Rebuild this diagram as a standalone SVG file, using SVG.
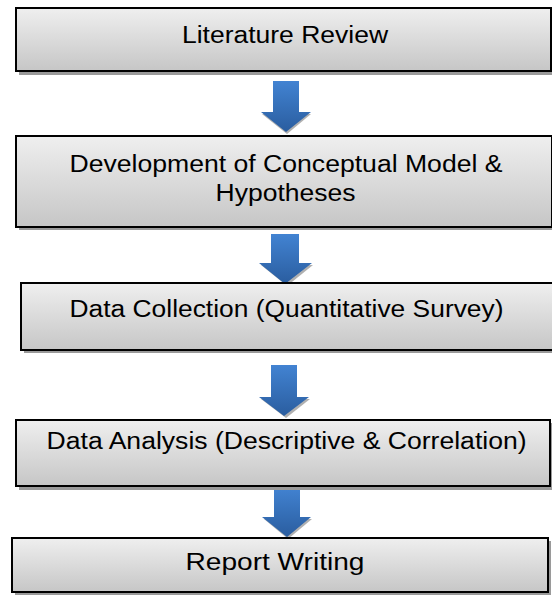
<svg xmlns="http://www.w3.org/2000/svg" width="552" height="597" viewBox="0 0 552 597">
  <defs>
    <linearGradient id="boxFill" x1="0" y1="0" x2="0" y2="1">
      <stop offset="0" stop-color="#efefef"/>
      <stop offset="1" stop-color="#c6c6c6"/>
    </linearGradient>
    <linearGradient id="arrowFill" x1="0" y1="0" x2="0" y2="1">
      <stop offset="0" stop-color="#4283d2"/>
      <stop offset="1" stop-color="#2a5d9f"/>
    </linearGradient>
  </defs>
  <style>
    .shadow { fill: #9a9a9a; }
    .box { fill: url(#boxFill); stroke: #000; stroke-width: 2; }
    .label { font-family: "Liberation Sans", Arial, sans-serif; font-size: 23px; fill: #000; text-anchor: middle; }
    .arrow { fill: url(#arrowFill); }
    .arrow-shadow { fill: #b0b0b0; }
  </style>

  <!-- connectors: block arrows between the steps -->
  <g id="connectors">
    <g id="arrow1">
      <path class="arrow-shadow" d="M262,114 L311,114 L287,134 Z"/>
      <path class="arrow" d="M273,81 L299,81 L299,112 L311,112 L286,132 L261,112 L273,112 Z"/>
    </g>
    <g id="arrow2">
      <path class="arrow-shadow" d="M261,265 L313,265 L287,286 Z"/>
      <path class="arrow" d="M271,234 L299,234 L299,263 L312,263 L285,284 L259,263 L271,263 Z"/>
    </g>
    <g id="arrow3">
      <path class="arrow-shadow" d="M261,399 L310,399 L286,418 Z"/>
      <path class="arrow" d="M271,365 L297,365 L297,397 L309,397 L284,416 L259,397 L271,397 Z"/>
    </g>
    <g id="arrow4">
      <path class="arrow-shadow" d="M264,519 L312,519 L288,539 Z"/>
      <path class="arrow" d="M274,487 L300,487 L300,517 L311,517 L287,537 L262,517 L274,517 Z"/>
    </g>
  </g>

  <g id="node-literature-review">
    <rect class="shadow" x="19" y="11" width="536" height="64"/>
    <rect class="box" x="16" y="8" width="535" height="63"/>
    <text class="label" x="285" y="43" textLength="206" lengthAdjust="spacingAndGlyphs">Literature Review</text>
  </g>

  <g id="node-conceptual-model">
    <rect class="shadow" x="19" y="139" width="536" height="91"/>
    <rect class="box" x="16" y="136" width="536" height="91"/>
    <text class="label" x="286" y="172" textLength="433" lengthAdjust="spacingAndGlyphs">Development of Conceptual Model &amp;</text>
    <text class="label" x="285.5" y="201" textLength="140" lengthAdjust="spacingAndGlyphs">Hypotheses</text>
  </g>

  <g id="node-data-collection">
    <rect class="shadow" x="24" y="286" width="534" height="67"/>
    <rect class="box" x="21" y="283" width="534" height="67"/>
    <text class="label" x="286.5" y="317" textLength="434" lengthAdjust="spacingAndGlyphs">Data Collection (Quantitative Survey)</text>
  </g>

  <g id="node-data-analysis">
    <rect class="shadow" x="19" y="423" width="534" height="67"/>
    <rect class="box" x="16" y="420" width="534" height="66"/>
    <text class="label" x="286.6" y="449" textLength="480" lengthAdjust="spacingAndGlyphs">Data Analysis (Descriptive &amp; Correlation)</text>
  </g>

  <g id="node-report-writing">
    <rect class="shadow" x="15" y="541" width="536" height="54"/>
    <rect class="box" x="12" y="538" width="536" height="54"/>
    <text class="label" x="275" y="570" textLength="179" lengthAdjust="spacingAndGlyphs">Report Writing</text>
  </g>
</svg>
